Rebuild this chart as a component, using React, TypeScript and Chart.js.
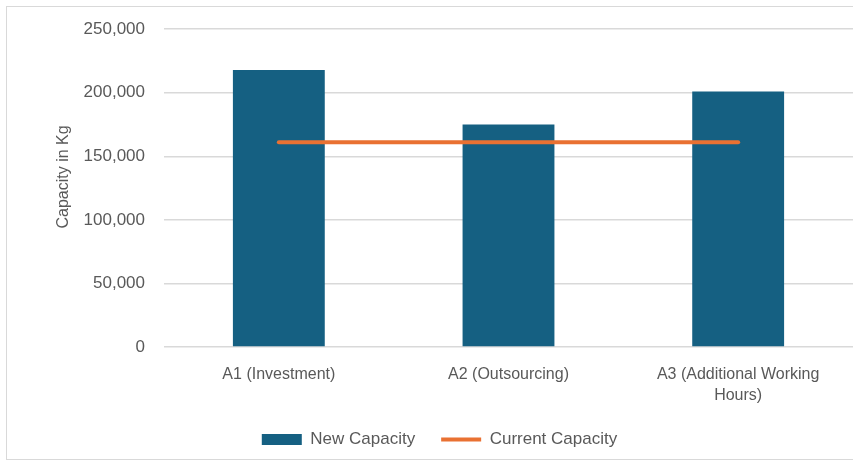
import React, { useEffect, useRef } from "react";
import { Chart, registerables } from "chart.js";

Chart.register(...registerables);

const categories: (string | string[])[] = [
  "A1 (Investment)",
  "A2 (Outsourcing)",
  ["A3 (Additional Working", "Hours)"],
];
const newCapacity = [218000, 175000, 201000];
const currentCapacity = [161000, 161000, 161000];
const yTicks = { min: 0, max: 250000, step: 50000 };

const BAR_COLOR = "#156082";
const LINE_COLOR = "#E97132";
const TEXT_COLOR = "#595959";
const GRID_COLOR = "#D9D9D9";
const FONT = "'Liberation Sans', Arial, sans-serif";

export default function App() {
  const canvasRef = useRef<HTMLCanvasElement | null>(null);

  useEffect(() => {
    if (!canvasRef.current) return;
    const chart = new Chart(canvasRef.current, {
      type: "bar",
      data: {
        labels: categories,
        datasets: [
          {
            type: "bar",
            label: "New Capacity",
            data: newCapacity,
            backgroundColor: BAR_COLOR,
            borderWidth: 0,
            categoryPercentage: 1,
            barPercentage: 0.4,
            pointStyle: "rect",
            order: 2,
          },
          {
            type: "line",
            label: "Current Capacity",
            data: currentCapacity,
            borderColor: LINE_COLOR,
            backgroundColor: LINE_COLOR,
            borderWidth: 4,
            borderCapStyle: "round",
            pointRadius: 0,
            pointStyle: "line",
            order: 1,
          },
        ],
      },
      options: {
        responsive: false,
        animation: false,
        layout: { padding: { left: 26, top: 28, right: 0, bottom: 8 } },
        plugins: {
          tooltip: { enabled: false },
          legend: {
            position: "bottom",
            labels: {
              usePointStyle: true,
              pointStyleWidth: 40,
              boxHeight: 11,
              padding: 26,
              color: TEXT_COLOR,
              font: { family: FONT, size: 17 },
              sort: (a: any, b: any) => a.datasetIndex - b.datasetIndex,
            },
          },
        },
        scales: {
          x: {
            grid: { display: false },
            border: { display: false },
            ticks: {
              color: TEXT_COLOR,
              padding: 9,
              maxRotation: 0,
              autoSkip: false,
              font: { family: FONT, size: 16, lineHeight: 1.3 },
            },
            afterFit: (scale: any) => {
              scale.height = 58;
            },
          },
          y: {
            min: yTicks.min,
            max: yTicks.max,
            border: { display: false },
            grid: { color: GRID_COLOR, lineWidth: 1.5, drawTicks: false },
            ticks: {
              stepSize: yTicks.step,
              color: TEXT_COLOR,
              padding: 19,
              font: { family: FONT, size: 17 },
              callback: (v: any) => Number(v).toLocaleString("en-US"),
            },
            title: {
              display: true,
              text: "     Capacity in Kg",
              color: TEXT_COLOR,
              padding: { top: 28, bottom: 4 },
              font: { family: FONT, size: 16 },
            },
            afterFit: (scale: any) => {
              scale.width = 138;
            },
          },
        },
      },
    });
    return () => chart.destroy();
  }, []);

  return (
    <div style={{ position: "fixed", left: 0, top: 0, width: 853, height: 466, background: "#fff" }}>
      <div
        style={{
          position: "absolute",
          left: 6,
          top: 6,
          width: 900,
          height: 454,
          border: "1px solid #D9D9D9",
          boxSizing: "border-box",
        }}
      />
      <canvas ref={canvasRef} width={853} height={466} style={{ position: "absolute", left: 0, top: 0 }} />
    </div>
  );
}
